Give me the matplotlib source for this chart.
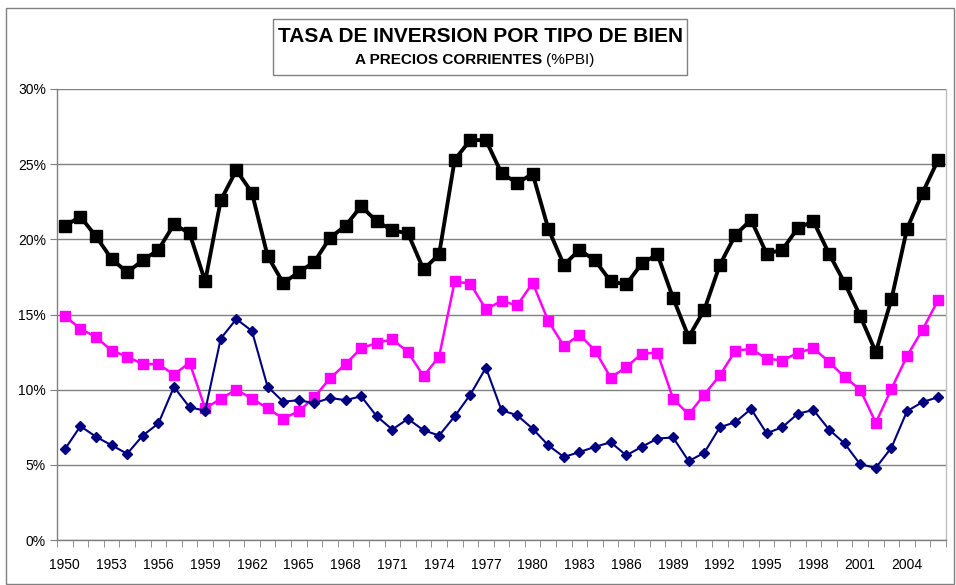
import matplotlib
matplotlib.use("Agg")
import matplotlib.pyplot as plt
from matplotlib.patches import Rectangle
from matplotlib.ticker import FuncFormatter, MultipleLocator

plt.rcParams['font.family'] = ['Liberation Sans Narrow', 'Liberation Sans', 'DejaVu Sans']

anios = list(range(1950, 2007))

# tasa total
total = [20.9, 21.5, 20.2, 18.7, 17.8, 18.6, 19.3, 21.0, 20.4, 17.2,
         22.6, 24.6, 23.1, 18.9, 17.1, 17.8, 18.5, 20.1, 20.9, 22.2,
         21.2, 20.6, 20.4, 18.0, 19.0, 25.3, 26.6, 26.6, 24.4, 23.75,
         24.35, 20.7, 18.3, 19.3, 18.6, 17.2, 17.0, 18.4, 19.0, 16.1,
         13.5, 15.3, 18.3, 20.3, 21.3, 19.05, 19.3, 20.75, 21.2, 19.05,
         17.1, 14.9, 12.5, 16.0, 20.7, 23.1, 25.3]

# construccion (magenta)
construccion = [14.9, 14.05, 13.5, 12.6, 12.2, 11.7, 11.7, 11.0, 11.8, 8.75,
                9.4, 10.0, 9.4, 8.76, 8.08, 8.56, 9.5, 10.75, 11.7, 12.76,
                13.1, 13.35, 12.5, 10.9, 12.2, 17.2, 17.05, 15.35, 15.9, 15.6,
                17.1, 14.57, 12.9, 13.65, 12.6, 10.8, 11.5, 12.4, 12.45, 9.4,
                8.35, 9.67, 10.95, 12.6, 12.7, 12.07, 11.94, 12.45, 12.76, 11.85,
                10.84, 10.0, 7.8, 10.05, 12.23, 14.0, 15.96]

# equipo durable (azul)
equipo = [6.03, 7.57, 6.87, 6.3, 5.74, 6.95, 7.75, 10.18, 8.83, 8.6,
          13.4, 14.7, 13.9, 10.2, 9.2, 9.3, 9.1, 9.45, 9.3, 9.56,
          8.23, 7.35, 8.06, 7.3, 6.95, 8.23, 9.67, 11.46, 8.63, 8.3,
          7.4, 6.3, 5.52, 5.85, 6.2, 6.5, 5.63, 6.2, 6.75, 6.82,
          5.25, 5.8, 7.5, 7.84, 8.72, 7.1, 7.5, 8.4, 8.65, 7.35,
          6.42, 5.03, 4.8, 6.14, 8.57, 9.18, 9.5]

fig = plt.figure(figsize=(9.56, 5.85), dpi=100)
W, H = 956, 585

# marco exterior
fig.patches.append(Rectangle((6 / W, 1 - 584 / H), 948 / W, 576 / H,
                             transform=fig.transFigure, fill=False,
                             edgecolor='#808080', linewidth=1))

ax = fig.add_axes([57 / W, 1 - 540 / H, (946 - 57) / W, (540 - 89) / H])

ax.plot(anios, total, color='black', linewidth=2.8, marker='s',
        markersize=9, zorder=3)
ax.plot(anios, construccion, color='#FF00FF', linewidth=1.8, marker='s',
        markersize=6.5, zorder=3)
ax.plot(anios, equipo, color='#000080', linewidth=1.5, marker='D',
        markersize=5, zorder=3)

ax.set_xlim(1949.5, 2006.5)
ax.set_ylim(0, 30)

ax.yaxis.set_major_locator(MultipleLocator(5))
ax.yaxis.set_major_formatter(FuncFormatter(lambda v, p: f'{v:.0f}%'))
ax.grid(axis='y', color='#808080', linewidth=1)
ax.set_axisbelow(True)

ax.set_xticks(anios[::3])
ax.set_xticks([a - 0.5 for a in anios] + [2006.5], minor=True)
ax.tick_params(axis='x', which='major', length=0, pad=13, labelsize=10)
ax.tick_params(axis='x', which='minor', length=5, color='#808080', direction='out')
ax.tick_params(axis='y', which='major', length=5, color='#808080', labelsize=10, pad=3)

for s in ax.spines.values():
    s.set_color('#808080')
    s.set_linewidth(1)
ax.spines['top'].set_visible(False)
ax.spines['right'].set_color('#c0c0c0')

# caja del titulo
fig.patches.append(Rectangle((273 / W, 1 - 75 / H), 414 / W, 56 / H,
                             transform=fig.transFigure, fill=False,
                             edgecolor='#808080', linewidth=1))
fig.text(480 / W, 1 - 37 / H, 'TASA DE INVERSION POR TIPO DE BIEN',
         ha='center', va='center', fontsize=15, fontweight='bold')
fig.text(546 / W, 1 - 60 / H, 'A PRECIOS CORRIENTES ', ha='right',
         va='center', fontsize=11, fontweight='bold')
fig.text(546 / W, 1 - 60 / H, '(%PBI)', ha='left', va='center', fontsize=11)

fig.savefig('out.png', dpi=100)
